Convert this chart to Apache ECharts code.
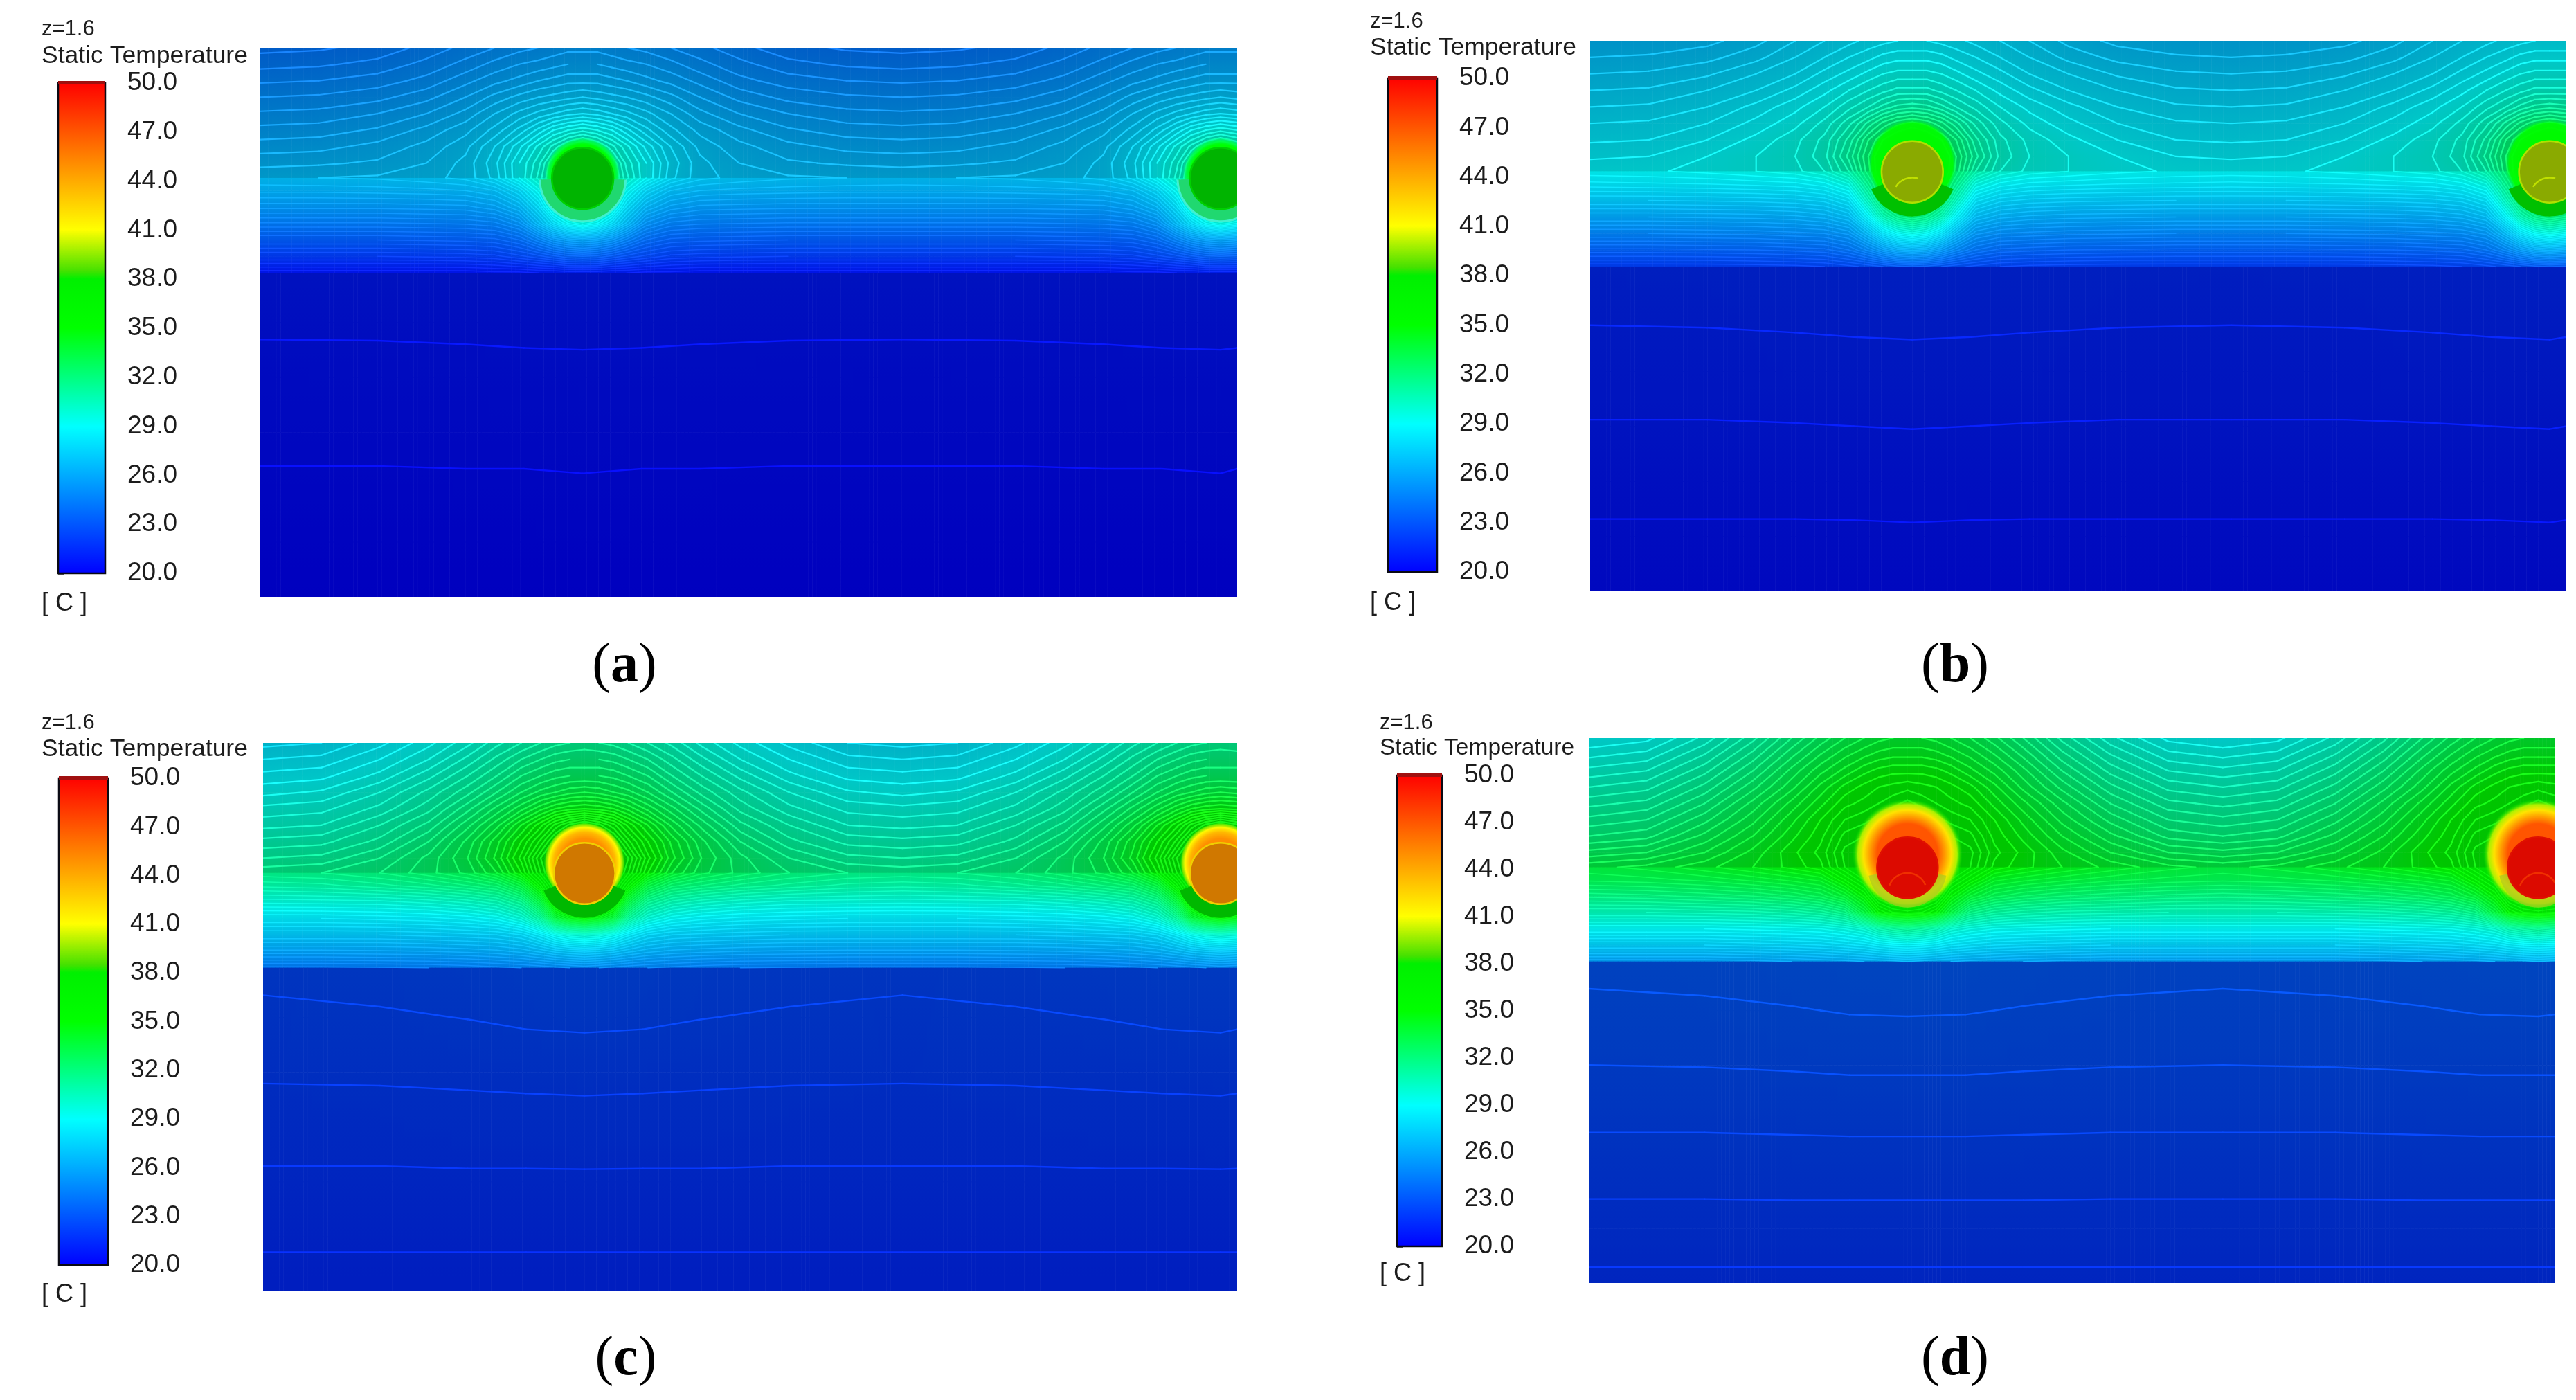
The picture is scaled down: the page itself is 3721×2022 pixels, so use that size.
<!DOCTYPE html>
<html><head><meta charset="utf-8">
<style>html,body{margin:0;padding:0;background:#fff}#c{width:3721px;height:2022px}</style>
<script src="https://cdn.jsdelivr.net/npm/echarts@6/dist/echarts.min.js"></script>
</head><body><div id="c"></div>
<script>
// ---- data ----
const tickValues=[20,23,26,29,32,35,38,41,44,47,50];
const panelNames=['a','b','c','d'];
// distance from a heater centre (% of width); the pattern repeats between the heaters
const distances=[0,1.5,3,4.5,6.5,9,12,16,21,27,32.65];
const heaterCentres=[33,98.3];
const upperRows=[0,3,6,9,12,15,18,21,23.7,26,29,32,35,38,41];
const lowerDistances=[0,6,12,21,32.65];
const lowerRows=[41,50,60,70,80,90,100];
const tempA=[
[25.6,25.6,25.5,25.4,25.3,25.1,24.9,24.6,24.3,24.15,24.1],
[26.0,26.0,25.9,25.8,25.7,25.5,25.2,24.9,24.6,24.45,24.4],
[26.5,26.5,26.4,26.3,26.1,25.9,25.6,25.2,24.95,24.8,24.75],
[27.2,27.1,27.0,26.9,26.7,26.4,26.0,25.6,25.3,25.15,25.1],
[28.1,28.0,27.8,27.6,27.3,26.9,26.4,26.0,25.7,25.5,25.45],
[29.5,29.3,29.0,28.5,27.9,27.3,26.8,26.4,26.05,25.85,25.8],
[31,30.6,30,29.4,28.6,27.8,27.1,26.7,26.4,26.2,26.15],
[32,31.6,30.8,29.8,29,28,27.3,26.9,26.65,26.55,26.5],
[32,31.6,31,30,29,27.9,27.3,27.1,26.95,26.9,26.85],
[32,31.6,30.6,29.2,27.8,26.9,26.6,26.5,26.45,26.4,26.4],
[31.5,31,29.8,28,26.6,25.9,25.6,25.55,25.5,25.5,25.5],
[29.5,29,28,26.8,25.3,24.7,24.55,24.5,24.45,24.45,24.45],
[26,25.8,25.4,24.7,23.9,23.5,23.4,23.35,23.3,23.3,23.3],
[23.6,23.5,23.2,22.9,22.6,22.3,22.2,22.15,22.1,22.1,22.1],
[21,21,20.9,20.9,20.8,20.8,20.7,20.7,20.7,20.7,20.7]];
const tempB=[
[28.4,28.4,28.3,28.2,28.0,27.8,27.5,27.1,26.8,26.65,26.6],
[28.9,28.9,28.8,28.6,28.4,28.1,27.8,27.4,27.1,26.95,26.9],
[29.4,29.4,29.3,29.1,28.8,28.5,28.1,27.8,27.45,27.25,27.2],
[30.0,30.0,29.8,29.6,29.3,28.9,28.5,28.1,27.8,27.55,27.5],
[31.0,30.9,30.6,30.2,29.8,29.3,28.9,28.5,28.1,27.85,27.8],
[32.4,32.2,31.8,31.2,30.4,29.7,29.2,28.8,28.4,28.15,28.1],
[33.2,33,32.6,32,30.9,30,29.5,29.1,28.7,28.4,28.35],
[33.6,33.4,33,32.3,31.2,30.1,29.6,29.3,29,28.7,28.65],
[33.6,33.4,33,32.2,30.8,29.9,29.5,29.3,29.1,28.95,28.9],
[33.6,33.4,32.8,31.6,29.6,28.9,28.6,28.5,28.4,28.35,28.3],
[33.2,33,32.2,30.4,28.2,27.6,27.4,27.3,27.25,27.2,27.2],
[32,31.6,30.6,28.8,26.9,26.4,26.2,26.1,26.05,26,26],
[29.5,29.1,28.2,26.8,25.5,25.1,25,24.9,24.85,24.8,24.8],
[26.4,26.2,25.6,24.9,24.2,23.8,23.7,23.6,23.55,23.5,23.5],
[23.3,23.2,23,22.8,22.6,22.4,22.3,22.25,22.2,22.2,22.2]];
const tempC=[
[31.5,31.4,31.3,31.1,30.8,30.4,29.8,29.2,28.6,28.1,28.0],
[32.0,32.0,31.9,31.7,31.4,30.9,30.3,29.6,29.0,28.5,28.4],
[32.6,32.6,32.5,32.3,32.0,31.4,30.8,30.1,29.4,28.9,28.8],
[33.5,33.4,33.2,33.0,32.6,32.0,31.3,30.6,29.9,29.35,29.2],
[34.7,34.6,34.4,34.0,33.4,32.7,31.9,31.0,30.3,29.8,29.7],
[37,36.6,36,35.2,34.4,33.4,32.5,31.5,30.8,30.2,30.1],
[38,38,37,36,35,34,33,32,31.2,30.7,30.6],
[38,38,37.5,36.8,35.4,34.2,33.2,32.4,31.7,31.2,31.1],
[38,38,37.5,36.5,35,33.8,33,32.5,32,31.7,31.6],
[38,38,37,35.5,33.5,32.4,32,31.6,31.3,31,30.9],
[38,37.5,36,33.5,31.5,30.7,30.3,30,29.8,29.75,29.7],
[35,34.5,33.5,31.3,29.8,29.1,28.8,28.6,28.5,28.4,28.4],
[30,29.8,29.3,28.5,27.8,27.5,27.4,27.3,27.2,27.2,27.2],
[27.3,27.2,27,26.7,26.4,26.2,26.1,26,25.95,25.9,25.9],
[25.2,25.1,25,24.9,24.8,24.7,24.6,24.5,24.45,24.4,24.4]];
const tempD=[
[33.8,33.8,33.7,33.5,33.2,32.7,32,31,30,29.2,29.0],
[34.3,34.3,34.2,34,33.7,33.2,32.5,31.5,30.5,29.7,29.5],
[34.9,34.9,34.8,34.6,34.2,33.7,33,32,31,30.2,30],
[35.5,35.4,35.3,35.1,34.8,34.2,33.4,32.5,31.5,30.7,30.5],
[36,35.8,35.6,35.4,35.2,34.6,33.9,33,32,31.2,31],
[36.5,36.3,36,35.8,35.6,35,34.3,33.4,32.5,31.7,31.5],
[37,37,36.6,36.2,36,35.2,34.6,33.8,33,32.2,32],
[37.5,37.5,37,36.6,36.3,35.4,34.9,34.2,33.5,32.9,32.7],
[37.5,37.5,37,36.6,36.2,35.2,34.8,34.4,34,33.6,33.4],
[37.5,37.5,37,36.2,35.3,34.2,33.9,33.6,33.3,33.1,33],
[37,37,36.5,35,33.8,33,32.6,32.3,32.1,31.9,31.8],
[35.8,35.6,35,33.5,31.8,31.2,30.9,30.7,30.6,30.5,30.5],
[31.5,31.2,30.8,30,29.6,29.3,29.2,29.1,29,29,29],
[28.8,28.7,28.5,28.2,28,27.8,27.7,27.6,27.5,27.5,27.5],
[26.6,26.5,26.4,26.3,26.2,26.1,26,25.9,25.8,25.8,25.8]];
const lowerA=[[20.85,20.85,20.84,20.83,20.82],[20.67,20.67,20.66,20.65,20.65],[20.53,20.52,20.51,20.5,20.49],[20.39,20.38,20.38,20.38,20.38],[20.27,20.26,20.26,20.25,20.25],[20.14,20.13,20.13,20.13,20.13],[20,20,20,20,20]];
const lowerB=[[21.48,21.47,21.46,21.44,21.44],[21.29,21.28,21.26,21.24,21.23],[21.08,21.07,21.06,21.05,21.05],[20.91,20.9,20.89,20.88,20.88],[20.72,20.72,20.71,20.71,20.71],[20.56,20.55,20.55,20.55,20.55],[20.4,20.4,20.4,20.4,20.4]];
const lowerC=[[22.7,22.68,22.62,22.55,22.5],[22.48,22.46,22.41,22.36,22.32],[22.2,22.19,22.17,22.15,22.14],[21.97,21.96,21.96,21.95,21.95],[21.75,21.75,21.75,21.74,21.74],[21.54,21.54,21.54,21.54,21.54],[21.4,21.4,21.4,21.4,21.4]];
const lowerD=[[23.25,23.24,23.2,23.14,23.1],[23.03,23.02,22.98,22.94,22.92],[22.75,22.75,22.73,22.71,22.7],[22.48,22.48,22.47,22.46,22.46],[22.22,22.22,22.22,22.21,22.21],[21.97,21.97,21.97,21.97,21.97],[21.73,21.73,21.73,21.73,21.73]];
// hot halo round each heater: y offset (% height), radius (% width), [offset, temperature, alpha] stops
const haloA=[-0.6,3.9,[[0,35,1],[.8,35,1],[.92,33,.85],[1,31,0]]];
const haloB=[-1.5,4.6,[[0,36,1],[.7,36,1],[.9,35,.9],[1,33,0]]];
const haloC=[-1.9,4.15,[[0,45,1],[.6,45,1],[.76,43.5,1],[.88,41.2,1],[.96,39,.9],[1,37,0]]];
const haloD=[-2.5,5.7,[[0,47,1],[.55,47,1],[.68,44.5,1],[.8,42,1],[.9,40,.95],[1,37.5,0]]];
// ---- styles and layout ----
const discColors=['#00b400','#8aaa00','#d07800','#dc0a00'];
const discRims=['#00d000','#b0e000','#f0d000','#e01000'];
// rings under each disc: radius in % of width, stroke width, colour, start angle
const underRings=[[[3.78,18,'#20d870',.03],[4.4,3,'#40f0d0',.03]],[[3.85,20,'#00c000',.4]],[[3.85,20,'#00b800',.4]],[[3.6,14,'rgba(168,204,32,.7)',.2]]];
// faint arc inside a disc: y offset in % of height, radius in % of width, start and end angle, colour
const discArcs=[null,[4.6,2,3.7,5.0,'#c0e000'],null,[4.5,2,3.5,5.9,'#f03000']];
const plots=[[376,69,1411,793],[2297,59,1410,795],[380,1073,1407,792],[2295,1066,1395,787]];
const bars=[[84,120,68,708],[2005,113,71,713],[85,1124,71,703],[2018,1120,65,680]];
const heads=[[60,42,81,60,872],[1979,31,69,1979,871],[60,1044,1082,60,1870],[1993,1044,1081,1993,1840]];
const captions=[[902,963],[2824,963],[904,1964],[2824,1964]];
const ramp=[[20,[0,0,255]],[29,[0,255,255]],[35,[0,255,0]],[38,[0,240,0]],[38.5,[70,225,0]],[41,[255,255,0]],[50,[255,0,0]]];
const fonts='"Liberation Sans",Arial,sans-serif';
function rgbOf(t){
  if(t<=20)return ramp[0][1];
  for(let i=1;i<ramp.length;i++){if(t<=ramp[i][0]){const f=(t-ramp[i-1][0])/(ramp[i][0]-ramp[i-1][0]);
    return ramp[i-1][1].map((c,k)=>c+(ramp[i][1][k]-c)*f);}}
  return ramp[ramp.length-1][1];
}
function css(rgb,shade,mix){mix=mix||0;return 'rgb('+rgb.map(c=>Math.round(c*shade*(1-mix)+255*mix)).join(',')+')';}
const shadeOfBand=y=>y<23.7?0.78:(y<41?0.9:0.75);
const lineMixOfBand=y=>y<23.7?0.1:(y<41?0.06:0.03);
const lerp=(a,b,f)=>a+(b-a)*f;

function buildMesh(table,dist,rows){
  const xs=[],idx=[];
  const n=dist.length;
  for(let i=n-1;i>=0;i--){xs.push(heaterCentres[0]-dist[i]);idx.push(i);}
  for(let i=1;i<n;i++){xs.push(heaterCentres[0]+dist[i]);idx.push(i);}
  for(let i=n-2;i>=0;i--){const x=heaterCentres[1]-dist[i];if(x>xs[xs.length-1]){xs.push(x);idx.push(i);}}
  xs[0]=0;xs.push(100);idx.push(1);
  return {xs,ys:rows,val:rows.map((_,j)=>idx.map(k=>table[j][k]))};
}
function cellsOf(m){
  const out=[];
  for(let j=0;j<m.ys.length-1;j++)for(let i=0;i<m.xs.length-1;i++){
    out.push([m.xs[i],m.ys[j],m.xs[i+1],m.ys[j+1],m.val[j][i],m.val[j][i+1],m.val[j+1][i],m.val[j+1][i+1]]);
  }
  return out;
}
function fieldSeries(grid,cells){
  return {type:'custom',coordinateSystem:'cartesian2d',xAxisIndex:grid,yAxisIndex:grid,clip:true,silent:true,animation:false,z:1,
    data:cells,encode:{x:[0,2],y:[1,3]},
    renderItem(p,api){
      const [x0,y0,x1,y1,a,b,c,d]=cells[p.dataIndex];
      const P=api.coord([x0,y0]),Q=api.coord([x1,y1]);
      const shade=shadeOfBand((y0+y1)/2);
      const w=Q[0]-P[0],n=Math.max(1,Math.ceil(w/6)),kids=[];
      for(let s=0;s<n;s++){
        const f=(s+.5)/n,top=lerp(a,b,f),bot=lerp(c,d,f);
        const stops=[0,.25,.5,.75,1].map(o=>({offset:o,color:css(rgbOf(lerp(top,bot,o)),shade)}));
        kids.push({type:'rect',shape:{x:P[0]+w*s/n,y:P[1],width:w/n+.6,height:Q[1]-P[1]+.6},
          style:{fill:{type:'linear',x:0,y:0,x2:0,y2:1,colorStops:stops}}});
      }
      return {type:'group',silent:true,children:kids};
    }};
}
const levelStep=0.3;
function contourSegments(m){
  const segs=[];
  for(let j=0;j<m.ys.length-1;j++)for(let i=0;i<m.xs.length-1;i++){
    const v=[m.val[j][i],m.val[j][i+1],m.val[j+1][i+1],m.val[j+1][i]];
    const p=[[m.xs[i],m.ys[j]],[m.xs[i+1],m.ys[j]],[m.xs[i+1],m.ys[j+1]],[m.xs[i],m.ys[j+1]]];
    const lo=Math.min(...v),hi=Math.max(...v);
    for(let k=Math.ceil((lo-20)/levelStep);20+k*levelStep<hi;k++){
      const L=20+k*levelStep,pts=[];
      if(L<=lo)continue;
      for(let e=0;e<4;e++){const A=v[e],B=v[(e+1)%4];
        if((A<L)!==(B<L)){const f=(L-A)/(B-A);pts.push([lerp(p[e][0],p[(e+1)%4][0],f),lerp(p[e][1],p[(e+1)%4][1],f)]);}}
      for(let q=0;q+1<pts.length;q+=2)segs.push([pts[q],pts[q+1],L]);
    }
  }
  return segs;
}
function contourSeries(grid,segs){
  return {type:'custom',coordinateSystem:'cartesian2d',xAxisIndex:grid,yAxisIndex:grid,clip:true,silent:true,animation:false,z:2,
    data:segs.map(s=>[s[0][0],s[0][1]]),
    renderItem(p,api){
      const s=segs[p.dataIndex],A=api.coord(s[0]),B=api.coord(s[1]);
      const my=(s[0][1]+s[1][1])/2;
      return {type:'line',silent:true,shape:{x1:A[0],y1:A[1],x2:B[0],y2:B[1]},
        style:{stroke:css(rgbOf(s[2]),1,lineMixOfBand(my)),lineWidth:my<23.7?2.2:(my<41?1.5:2.4),lineCap:'round',fill:null}};
    }};
}
const halos=[haloA,haloB,haloC,haloD];
function discSeries(grid,i){
  const centres=heaterCentres.map(x=>[x,23.8,3.15]);
  return {type:'custom',coordinateSystem:'cartesian2d',xAxisIndex:grid,yAxisIndex:grid,clip:true,silent:true,animation:false,z:3,
    data:centres,encode:{x:0,y:1},
    renderItem(p,api){
      const x=api.value(0),y=api.value(1);
      const c=api.coord([x,y]),r=api.size([api.value(2),0])[0],kids=[];
      const [dy,hr,hs]=halos[i],hc=api.coord([x,y+dy]),HR=api.size([hr,0])[0];
      kids.push({type:'circle',shape:{cx:hc[0],cy:hc[1],r:HR},style:{fill:{type:'radial',x:.5,y:.5,r:.5,
        colorStops:hs.map(s=>({offset:s[0],color:'rgba('+rgbOf(s[1]).map(Math.round).join(',')+','+s[2]+')'}))}}});
      underRings[i].forEach(u=>{
        const R=api.size([u[0],0])[0];
        kids.push({type:'arc',shape:{cx:c[0],cy:c[1],r:R,startAngle:u[3],endAngle:Math.PI-u[3],clockwise:true},
          style:{stroke:u[2],lineWidth:u[1],fill:null}});
      });
      kids.push({type:'circle',shape:{cx:c[0],cy:c[1],r:r},style:{fill:discColors[i],stroke:discRims[i],lineWidth:2.5}});
      const a=discArcs[i];
      if(a){const q=api.coord([x,y+a[0]]);
        kids.push({type:'arc',shape:{cx:q[0],cy:q[1],r:api.size([a[1],0])[0],startAngle:a[2],endAngle:a[3],clockwise:true},
          style:{stroke:a[4],lineWidth:2.5,fill:null}});}
      return {type:'group',silent:true,children:kids};
    }};
}
function barSeries(grid){
  const stops=ramp.map(r=>({offset:(50-r[0])/30,color:css(r[1],1)})).reverse();
  return {type:'custom',coordinateSystem:'cartesian2d',xAxisIndex:grid,yAxisIndex:grid,silent:true,animation:false,z:2,
    data:[[0,20,1,50]],encode:{x:[0,2],y:[1,3]},
    renderItem(p,api){
      const A=api.coord([0,50]),B=api.coord([1,20]);
      return {type:'group',silent:true,children:[
        {type:'rect',shape:{x:A[0],y:A[1],width:B[0]-A[0],height:B[1]-A[1]},
         style:{fill:{type:'linear',x:0,y:0,x2:0,y2:1,colorStops:stops},stroke:'#0a0a14',lineWidth:2.5}},
        {type:'rect',shape:{x:A[0],y:A[1]-3,width:B[0]-A[0],height:5},style:{fill:'#a01010'}}]};
    }};
}
const tables=[tempA,tempB,tempC,tempD],lowers=[lowerA,lowerB,lowerC,lowerD];
const grids=[],xAxes=[],yAxes=[],series=[],graphics=[];
const label=(x,y,text,size)=>({type:'text',x:x,y:y,silent:true,style:{text:text,font:size+'px '+fonts,fill:'#1c1c1c',verticalAlign:'middle',align:'left'}});
panelNames.forEach((name,i)=>{
  const [l,t,w,h]=plots[i];
  grids.push({left:l,top:t,width:w,height:h});
  xAxes.push({type:'value',gridIndex:i,min:0,max:100,show:false});
  yAxes.push({type:'value',gridIndex:i,min:0,max:100,inverse:true,show:false});
  const up=buildMesh(tables[i],distances,upperRows);
  const lowM=buildMesh(lowers[i],lowerDistances,lowerRows);
  series.push(fieldSeries(i,cellsOf(up)),fieldSeries(i,cellsOf(lowM)));
  series.push(contourSeries(i,contourSegments(up)),contourSeries(i,contourSegments(lowM)));
  series.push(discSeries(i,i));
});
panelNames.forEach((name,i)=>{
  const g=i+4,[l,t,w,h]=bars[i];
  grids.push({left:l,top:t,width:w,height:h});
  xAxes.push({type:'value',gridIndex:g,min:0,max:1,show:false});
  yAxes.push({type:'value',gridIndex:g,min:20,max:50,position:'right',
    splitLine:{show:false},axisLine:{show:false},
    axisTick:{show:true,length:8,lineStyle:{color:'#1c1c1c',width:2.5},customValues:tickValues},
    axisLabel:{show:true,margin:32,fontSize:37,fontFamily:'Liberation Sans',color:'#1c1c1c',customValues:tickValues,formatter:v=>Number(v).toFixed(1)}});
  series.push(barSeries(g));
  const [tx,zy,sy,ux,uy]=heads[i];
  graphics.push(label(tx,zy,'z=1.6',31),label(tx,sy,'Static Temperature',i===3?33.5:35.5),label(ux,uy,'[ C ]',36));
  const [cx,cy]=captions[i];
  graphics.push({type:'text',x:cx,y:cy,silent:true,style:{text:'{p|(}{b|'+name+'}{p|)}',align:'center',verticalAlign:'middle',
    rich:{p:{font:'80px "Liberation Serif",serif',fill:'#000'},b:{font:'bold 80px "Liberation Serif",serif',fill:'#000'}}}});
});
const chart=echarts.init(document.getElementById('c'),null,{renderer:'canvas',width:3721,height:2022});
chart.setOption({animation:false,backgroundColor:'#fff',grid:grids,xAxis:xAxes,yAxis:yAxes,series:series,graphic:graphics,tooltip:{show:false}});
</script></body></html>
